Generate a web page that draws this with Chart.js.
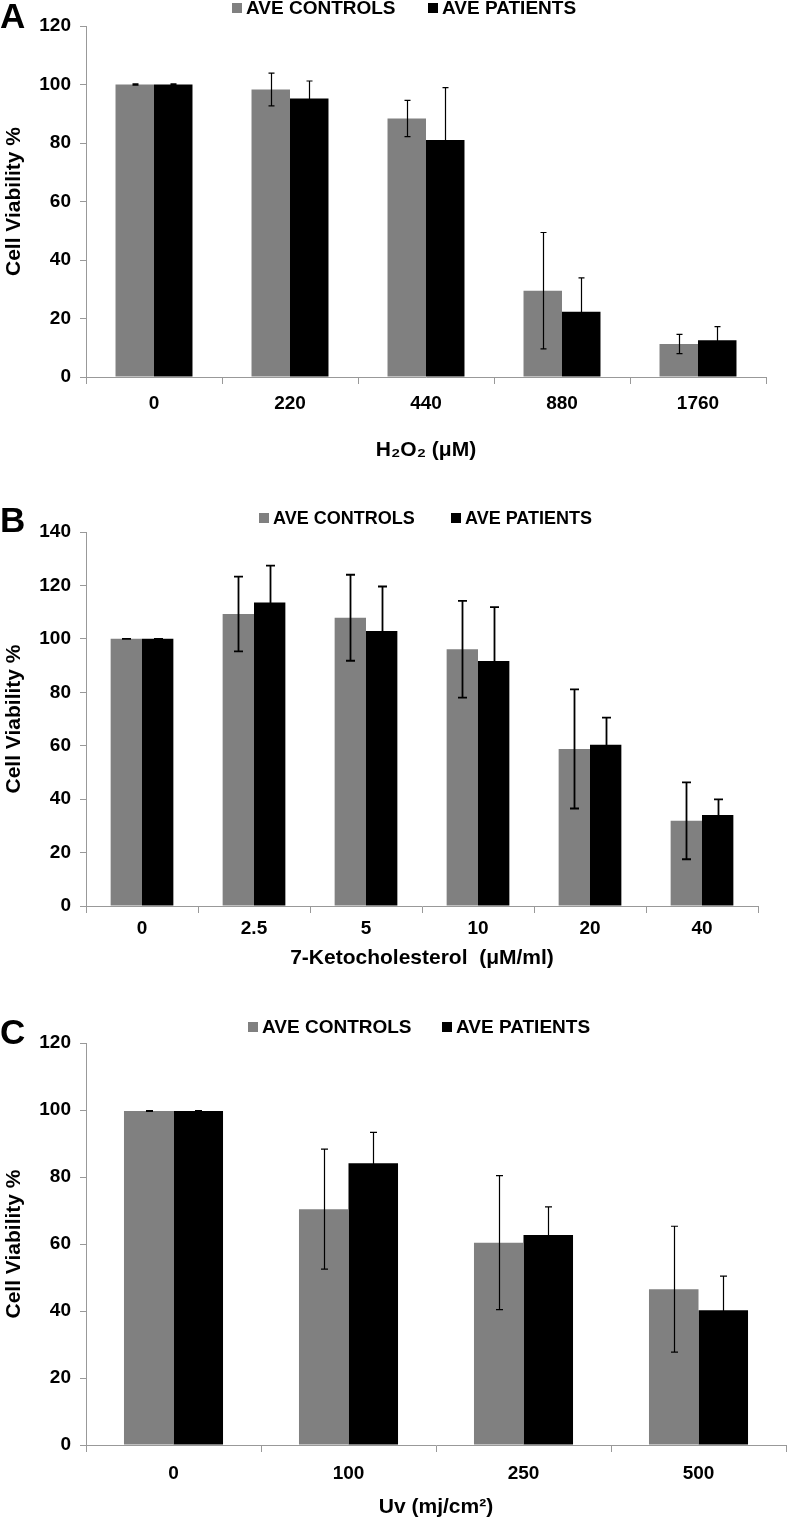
<!DOCTYPE html>
<html>
<head>
<meta charset="utf-8">
<script src="https://cdn.jsdelivr.net/npm/chart.js@4.4.0/dist/chart.umd.min.js"></script>
<style>
  html, body { margin: 0; padding: 0; background: #fff; }
  #page { position: relative; width: 792px; height: 1520px; }
  canvas { position: absolute; left: 0; }
</style>
</head>
<body>
<div id="page">
  <canvas id="chartA" width="792" height="470" style="top:0px"></canvas>
  <canvas id="chartB" width="792" height="500" style="top:480px"></canvas>
  <canvas id="chartC" width="792" height="540" style="top:980px"></canvas>
</div>
<script>
// panel A - H2O2
var h2o2Doses = ["0", "220", "440", "880", "1760"];
var h2o2Controls = [100, 98.3, 88.4, 29.5, 11.3];
var h2o2ControlsErr = [0.2, 5.6, 6.2, 19.9, 3.3];
var h2o2Patients = [100, 95.2, 81, 22.3, 12.6];
var h2o2PatientsErr = [0.2, 6.0, 17.9, 11.6, 4.6];
var h2o2Ticks = [0, 20, 40, 60, 80, 100, 120];

// panel B - 7-ketocholesterol
var ketoDoses = ["0", "2.5", "5", "10", "20", "40"];
var ketoControls = [100, 109.3, 107.9, 96.1, 58.8, 31.9];
var ketoControlsErr = [0, 14, 16.1, 18.1, 22.3, 14.4];
var ketoPatients = [100, 113.6, 102.9, 91.7, 60.4, 34.1];
var ketoPatientsErr = [0, 13.8, 16.7, 20.2, 10.1, 5.8];
var ketoTicks = [0, 20, 40, 60, 80, 100, 120, 140];

// panel C - UV
var uvDoses = ["0", "100", "250", "500"];
var uvControls = [99.7, 70.4, 60.4, 46.5];
var uvControlsErr = [0.1, 17.9, 20, 18.8];
var uvPatients = [99.7, 84.1, 62.7, 40.2];
var uvPatientsErr = [0.1, 9.2, 8.4, 10.2];
var uvTicks = [0, 20, 40, 60, 80, 100, 120];

var seriesNames = ["AVE CONTROLS", "AVE PATIENTS"];
var FONT = "'Liberation Sans', Arial, sans-serif";

// error bars drawn on top of the bars
var errorBars = {
    id: "errorBars",
    afterDatasetsDraw: function (chart, args, opts) {
        var ctx = chart.ctx;
        var y = chart.scales.y;
        ctx.save();
        ctx.strokeStyle = opts.color;
        ctx.lineWidth = opts.width;
        chart.data.datasets.forEach(function (ds, i) {
            var meta = chart.getDatasetMeta(i);
            meta.data.forEach(function (bar, j) {
                var v = ds.data[j], e = ds.errors[j];
                var top = y.getPixelForValue(v + e);
                var bot = y.getPixelForValue(v - e);
                var x = Math.round(bar.x) + 0.5;
                var c = opts.cap / 2;
                ctx.beginPath();
                ctx.moveTo(x, top); ctx.lineTo(x, bot);
                ctx.moveTo(x - c, top); ctx.lineTo(x + c, top);
                ctx.moveTo(x - c, bot); ctx.lineTo(x + c, bot);
                ctx.stroke();
            });
        });
        ctx.restore();
    }
};

// panel letter and the little legend row on top
var panelText = {
    id: "panelText",
    afterDraw: function (chart, args, opts) {
        var ctx = chart.ctx;
        ctx.save();
        ctx.textBaseline = "middle";
        ctx.textAlign = "left";
        ctx.fillStyle = "#000";
        ctx.font = "bold 35px " + FONT;
        ctx.fillText(opts.letter, opts.letterX, opts.letterY);
        ctx.font = "bold " + opts.legendSize + "px " + FONT;
        chart.data.datasets.forEach(function (ds, i) {
            var bx = opts.legendX[i];
            ctx.fillStyle = ds.backgroundColor;
            ctx.fillRect(bx, opts.legendY - 5, 10, 10);
            ctx.fillStyle = "#000";
            ctx.fillText(ds.label, bx + 14, opts.legendY + 1);
        });
        ctx.restore();
    }
};

function makePanel(id, p) {
    return new Chart(document.getElementById(id), {
        type: "bar",
        data: {
            labels: p.labels,
            datasets: [{
                label: seriesNames[0],
                data: p.controls,
                errors: p.controlsErr,
                backgroundColor: "#808080",
                barPercentage: 1.0,
                categoryPercentage: p.catPct
            }, {
                label: seriesNames[1],
                data: p.patients,
                errors: p.patientsErr,
                backgroundColor: "#000000",
                barPercentage: 1.0,
                categoryPercentage: p.catPct
            }]
        },
        options: {
            responsive: false,
            animation: false,
            layout: { padding: { top: p.padTop, right: p.padRight, bottom: 0, left: 0 } },
            plugins: {
                legend: { display: false },
                tooltip: { enabled: false },
                errorBars: { color: "#000", width: p.errWidth, cap: p.cap },
                panelText: {
                    letter: p.letter, letterX: 0, letterY: p.letterY,
                    legendX: p.legendX, legendY: p.legendY, legendSize: p.legendSize
                }
            },
            scales: {
                x: {
                    grid: { drawOnChartArea: false, drawTicks: true, tickLength: 7, color: "#999" },
                    border: { color: "#999", width: 1 },
                    ticks: { color: "#000", padding: p.xTickPad, font: { family: FONT, size: 19, weight: "bold" } },
                    title: {
                        display: true, text: p.xTitle, color: "#000",
                        font: { family: FONT, size: 21, weight: "bold" },
                        padding: { top: 0, bottom: p.xTitlePad }
                    },
                    afterFit: function (s) { s.height = p.xHeight; }
                },
                y: {
                    min: 0,
                    max: p.ticks[p.ticks.length - 1],
                    afterBuildTicks: function (s) { s.ticks = p.ticks.map(function (v) { return { value: v }; }); },
                    grid: { drawOnChartArea: false, drawTicks: true, tickLength: 6, color: "#999" },
                    border: { color: "#999", width: 1 },
                    ticks: { color: "#000", padding: 9, font: { family: FONT, size: 19, weight: "bold" } },
                    title: {
                        display: true, text: "Cell Viability %", color: "#000",
                        font: { family: FONT, size: 21, weight: "bold" },
                        padding: { top: 2, bottom: 0 }
                    },
                    afterFit: function (s) { s.width = 86; }
                }
            }
        },
        plugins: [errorBars, panelText]
    });
}

makePanel("chartA", {
    labels: h2o2Doses, controls: h2o2Controls, controlsErr: h2o2ControlsErr,
    patients: h2o2Patients, patientsErr: h2o2PatientsErr, ticks: h2o2Ticks,
    xTitle: "H\u2082O\u2082 (\u03bcM)", catPct: 0.566,
    padTop: 26, padRight: 26, xHeight: 93, xTickPad: 8, xTitlePad: 7,
    errWidth: 1.2, cap: 6,
    letter: "A", letterY: 18, legendX: [232, 428], legendY: 8, legendSize: 19
});

makePanel("chartB", {
    labels: ketoDoses, controls: ketoControls, controlsErr: ketoControlsErr,
    patients: ketoPatients, patientsErr: ketoPatientsErr, ticks: ketoTicks,
    xTitle: "7-Ketocholesterol  (\u03bcM/ml)", catPct: 0.56,
    padTop: 52, padRight: 34, xHeight: 74, xTickPad: 4, xTitlePad: 9,
    errWidth: 1.8, cap: 9,
    letter: "B", letterY: 42, legendX: [259, 451], legendY: 38, legendSize: 18
});

makePanel("chartC", {
    labels: uvDoses, controls: uvControls, controlsErr: uvControlsErr,
    patients: uvPatients, patientsErr: uvPatientsErr, ticks: uvTicks,
    xTitle: "Uv (mj/cm\u00b2)", catPct: 0.566,
    padTop: 63, padRight: 6, xHeight: 75, xTickPad: 10, xTitlePad: 0,
    errWidth: 1.2, cap: 7,
    letter: "C", letterY: 54, legendX: [248, 442], legendY: 47, legendSize: 19
});
</script>
</body>
</html>
